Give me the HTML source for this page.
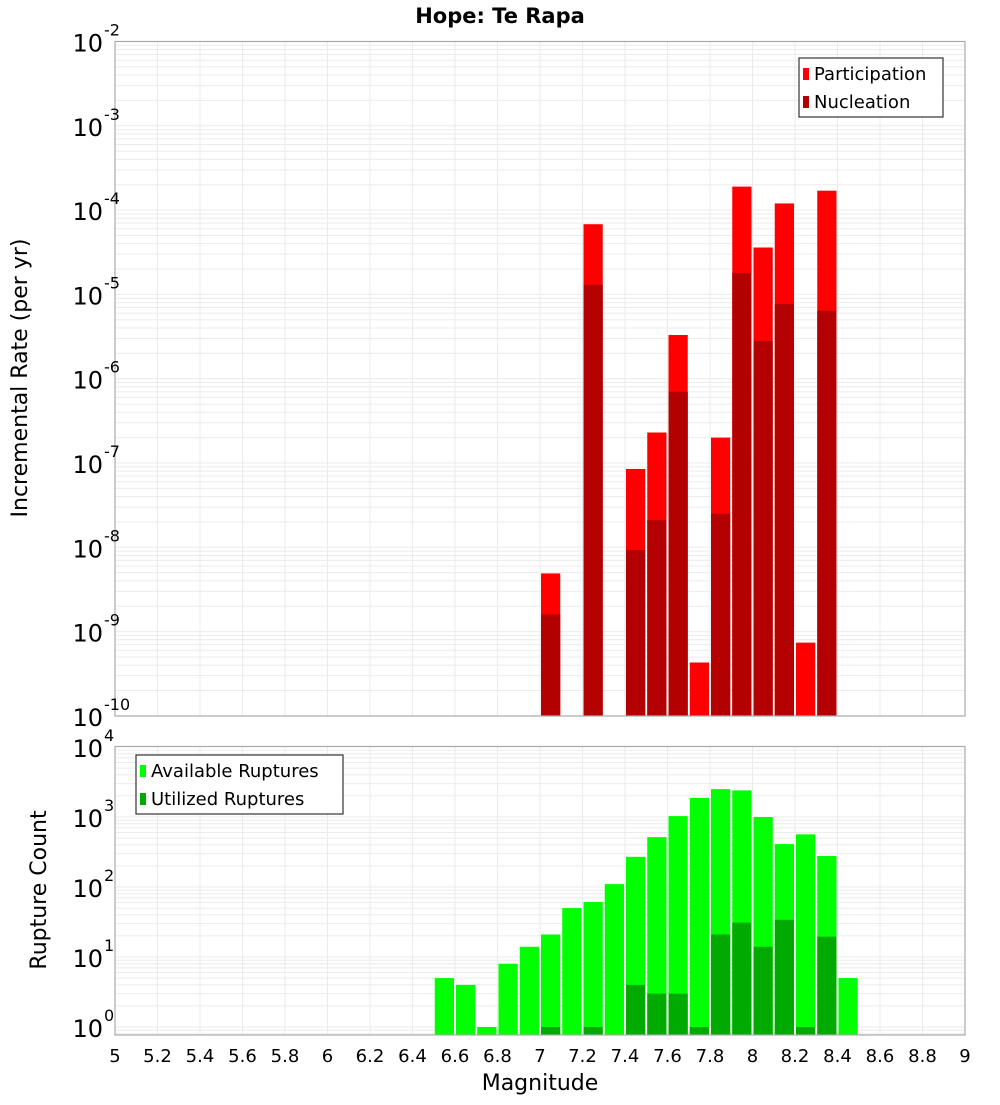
<!DOCTYPE html>
<html><head><meta charset="utf-8"><style>
body{margin:0;background:#fff;font-family:"Liberation Sans","DejaVu Sans",sans-serif}
svg text{font-family:"DejaVu Sans","Liberation Sans",sans-serif}
</style></head><body>
<svg id="c" width="1000" height="1100" xmlns="http://www.w3.org/2000/svg">
<text x="500" y="23" text-anchor="middle" font-size="21" font-weight="bold">Hope: Te Rapa</text>
<g id="topg"></g><g id="botg"></g>
<text transform="translate(27,378) rotate(-90)" text-anchor="middle" font-size="22">Incremental Rate (per yr)</text>
<text transform="translate(46,890) rotate(-90)" text-anchor="middle" font-size="22">Rupture Count</text>
<text x="540" y="1090" text-anchor="middle" font-size="22">Magnitude</text>
</svg>
<script>
const mags=[7.05,7.25,7.45,7.55,7.65,7.75,7.85,7.95,8.05,8.15,8.25,8.35];
const participation=[4.9e-9,6.8e-5,8.5e-8,2.3e-7,3.3e-6,4.3e-10,2.0e-7,1.9e-4,3.6e-5,1.2e-4,7.4e-10,1.7e-4];
const nucleation=[1.6e-9,1.3e-5,9.3e-9,2.1e-8,7e-7,0,2.5e-8,1.8e-5,2.8e-6,7.7e-6,0,6.4e-6];
const cmags=[6.55,6.65,6.75,6.85,6.95,7.05,7.15,7.25,7.35,7.45,7.55,7.65,7.75,7.85,7.95,8.05,8.15,8.25,8.35,8.45];
const available=[5,4,1,8,14,21,50,61,110,270,516,1030,1870,2500,2400,1000,410,565,277,5];
const utilized=[0,0,0,0,0,1,0,1,0,4,3,3,1,21,31,14,34,1,19.5,0];
const xTicks=[5,5.2,5.4,5.6,5.8,6,6.2,6.4,6.6,6.8,7,7.2,7.4,7.6,7.8,8,8.2,8.4,8.6,8.8,9];
const topExps=[-2,-3,-4,-5,-6,-7,-8,-9,-10];
const botExps=[4,3,2,1,0];
const NS="http://www.w3.org/2000/svg";
const X0=115,X1=965;
const xs=m=>X0+(m-5)/4*(X1-X0);
const T0=41.5,T1=716,TD=84.3; const yTop=v=>T0+(-2-Math.log10(v))*TD;
const B0=746.5,B1=1035,BD=70; const yBot=v=>1027-Math.log10(v)*BD;
function el(p,t,a){const e=document.createElementNS(NS,t);for(const k in a)e.setAttribute(k,a[k]);p.appendChild(e);return e;}
function panel(g,y0,y1,yf,emin,emax,name){
  el(g,'rect',{x:X0,y:y0,width:X1-X0,height:y1-y0,fill:'#fff'});
  for(let e=emin;e<=emax;e++)for(let k=1;k<10;k++){const y=yf(k*Math.pow(10,e));if(y<y0||y>y1)continue;
    const l=el(g,'line',{x1:X0,x2:X1,y1:y,y2:y,stroke:'#ebebeb','stroke-width':1});
    
    }
  xTicks.forEach(t=>{const l=el(g,'line',{x1:xs(t),x2:xs(t),y1:y0,y2:y1,stroke:'#ebebeb','stroke-width':1});
    
    });
}
function frame(g,y0,y1,name){const r=el(g,'rect',{x:X0,y:y0,width:X1-X0,height:y1-y0,fill:'none',stroke:'#aaa','stroke-width':1.2});
  
  }
function bar(g,m,v,fill,yf,yb,name){if(!v)return;const x=xs(m-0.05)+1,w=xs(m+0.05)-xs(m-0.05)-2;const y=Math.max(yf(v),0);
  const r=el(g,'rect',{x:x,y:y,width:w,height:yb-y,fill:fill});
  
  }
function ylab(g,e,y){const t=el(g,'text',{x:103,y:y+10,'text-anchor':'end','font-size':24});t.textContent='10';
  
  
  const s=el(g,'text',{x:104,y:y-6,'font-size':16});s.textContent=String(e);
  
  }
const topG=document.getElementById('topg'),botG=document.getElementById('botg');
panel(topG,T0,T1,yTop,-10,-3,'top');
mags.forEach((m,i)=>{bar(topG,m,participation[i],'#ff0000',yTop,T1,'participation-bar');bar(topG,m,nucleation[i],'#b30000',yTop,T1,'nucleation-bar');});
frame(topG,T0,T1,'top');
topExps.forEach(e=>ylab(topG,e,yTop(Math.pow(10,e))));
panel(botG,B0,B1,yBot,-1,3,'bottom');
cmags.forEach((m,i)=>{bar(botG,m,available[i],'#00ff00',yBot,B1,'available-bar');bar(botG,m,utilized[i],'#00aa00',yBot,B1,'utilized-bar');});
frame(botG,B0,B1,'bottom');
botExps.forEach(e=>ylab(botG,e,yBot(Math.pow(10,e))));
xTicks.forEach(t=>{const s=el(botG,'text',{x:xs(t),y:1062,'text-anchor':'middle','font-size':18});s.textContent=String(t);
  
  });
function legend(x,y,w,items,name){const g=el(document.getElementById('c'),'g',{});
  
  
  el(g,'rect',{x:x,y:y,width:w,height:59,fill:'#fff',stroke:'#333','stroke-width':1.2});
  items.forEach((it,i)=>{el(g,'rect',{x:x+4,y:y+10+i*28,width:6,height:12,fill:it[1]});
    const t=el(g,'text',{x:x+15,y:y+22+i*28,'font-size':18});t.textContent=it[0];
    
    });}
legend(799,58,144,[['Participation','#ff0000'],['Nucleation','#b30000']],'top-legend');
legend(136,755,207,[['Available Ruptures','#00ff00'],['Utilized Ruptures','#00aa00']],'bottom-legend');
</script>
</body></html>
